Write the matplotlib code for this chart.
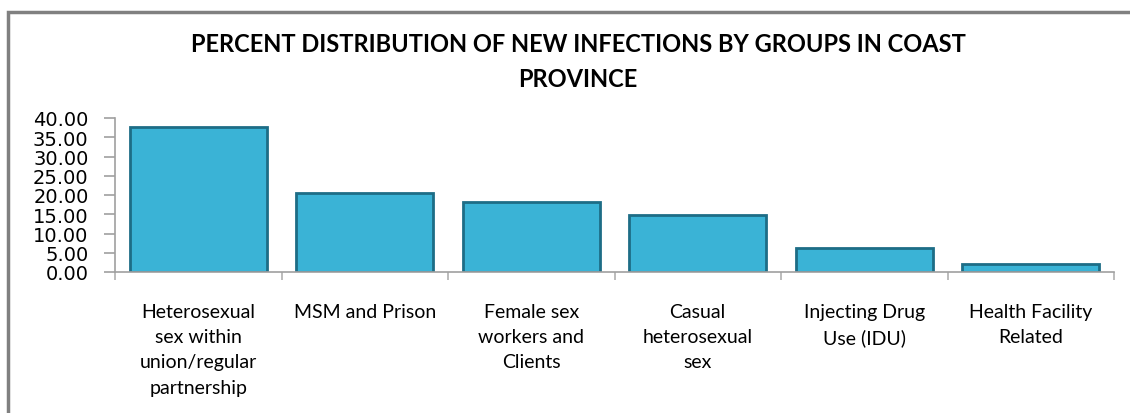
import matplotlib
matplotlib.use("Agg")
import matplotlib.pyplot as plt
from matplotlib.patches import Rectangle
import numpy as np

categories = ["Heterosexual\nsex within\nunion/regular\npartnership",
              "MSM and Prison",
              "Female sex\nworkers and\nClients",
              "Casual\nheterosexual\nsex",
              "Injecting Drug\nUse (IDU)",
              "Health Facility\nRelated"]
values = [37.7, 20.5, 18.1, 14.8, 6.2, 2.1]
yticks = [0, 5, 10, 15, 20, 25, 30, 35, 40]

font = ["Lato", "DejaVu Sans"]

fig = plt.figure(figsize=(11.30, 4.14), dpi=100)
# outer chart frame (only top and left edges visible)
fig.patches.append(Rectangle((8 / 1130, -0.1), 1.2, 1.1 - 13 / 414,
                             transform=fig.transFigure, fill=False,
                             edgecolor="#808080", linewidth=2.5))

ax = fig.add_axes([115 / 1130, 1 - 273 / 414, 999 / 1130, 154 / 414])
x = np.arange(len(categories))
ax.bar(x, values, width=0.82, color="#3ab3d6", edgecolor="#1d6d86",
       linewidth=2)
ax.set_xlim(-0.5, len(categories) - 0.5)
ax.set_ylim(0, 40)
ax.set_yticks(yticks)
ax.set_yticklabels(["%.2f" % v for v in yticks], fontsize=14,
                   family="DejaVu Sans")
ax.set_xticks(x)
ax.set_xticklabels(categories, fontsize=14, family=font,
                   linespacing=1.6, va="top")
ax.tick_params(axis="x", which="major", length=0, pad=22)
ax.set_xticks(np.arange(len(categories) + 1) - 0.5, minor=True)
ax.tick_params(axis="x", which="minor", length=6, color="#b0b0b0", width=1.2)
ax.tick_params(axis="y", length=8, color="#a0a0a0", width=1.2, pad=11)
for s in ["top", "right"]:
    ax.spines[s].set_visible(False)
ax.spines["left"].set_color("#a0a0a0")
ax.spines["bottom"].set_color("#a0a0a0")
ax.spines["left"].set_linewidth(1.2)
ax.spines["bottom"].set_linewidth(1.2)

fig.text(578 / 1130, 1 - 62 / 414,
         "PERCENT DISTRIBUTION OF NEW INFECTIONS BY GROUPS IN COAST\nPROVINCE",
         ha="center", va="center", fontsize=17, fontweight="bold",
         family=font, linespacing=1.66)

fig.savefig("out.png", dpi=100)
